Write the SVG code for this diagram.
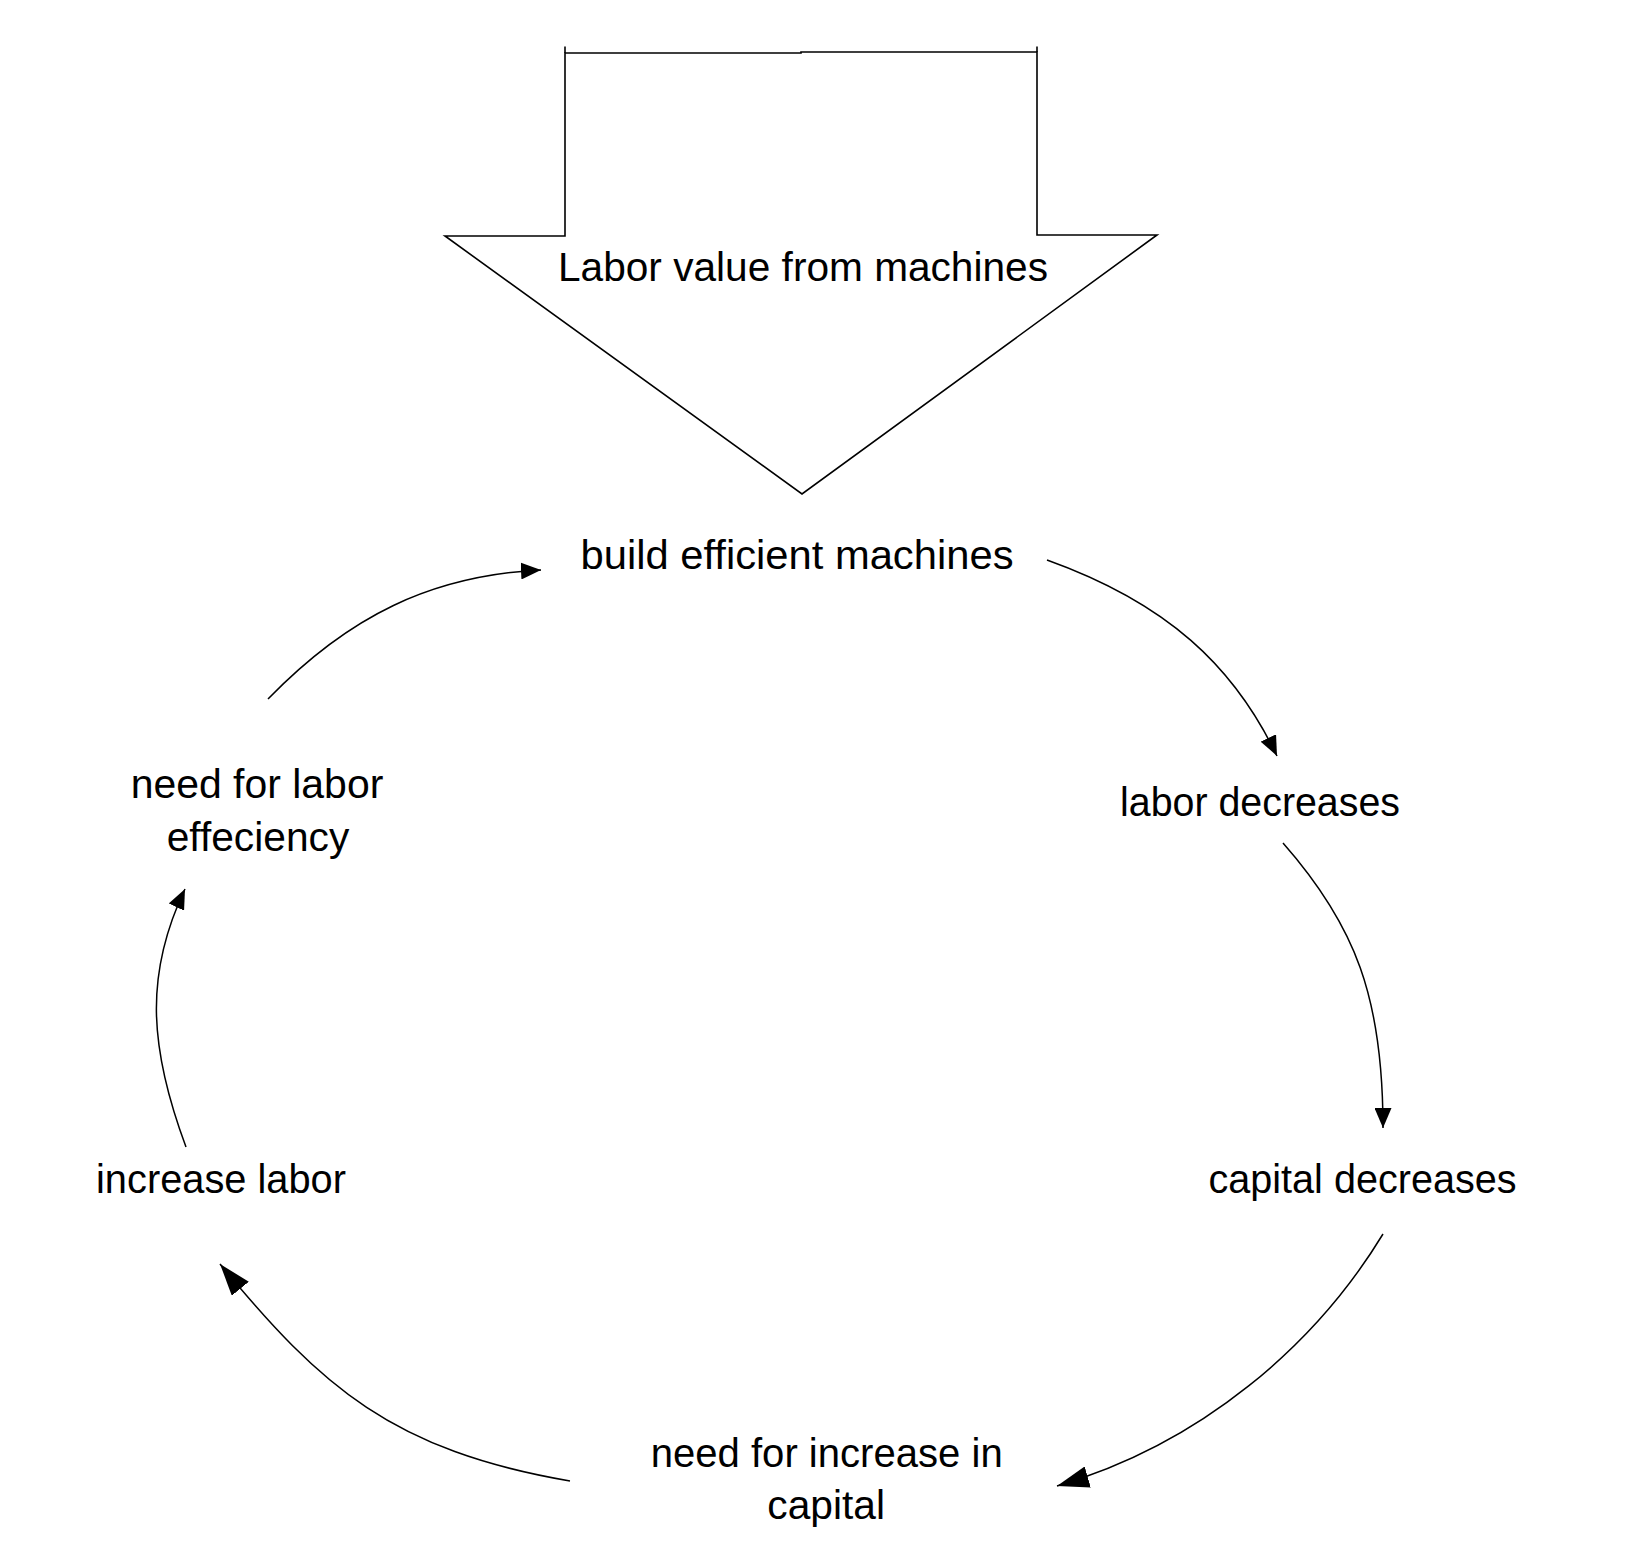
<svg xmlns="http://www.w3.org/2000/svg" width="1648" height="1543" viewBox="0 0 1648 1543">
  <style>
    .lbl { font-family: "Liberation Sans", Arial, sans-serif; font-size: 40.5px; fill: #000; text-anchor: middle; }
    .shape { fill: #fff; stroke: #000; stroke-width: 1.6; stroke-linejoin: miter; }
    .edge { fill: none; stroke: #000; stroke-width: 1.5; }
    .sm { marker-end: url(#headSmall); }
    .lg { marker-end: url(#headLarge); }
  </style>
  <defs>
    <marker id="headSmall" markerUnits="userSpaceOnUse" viewBox="0 0 20 17" refX="20" refY="8.5" markerWidth="20" markerHeight="17" orient="auto">
      <path d="M0,0 L20,8.5 L0,17 z" fill="#000"/>
    </marker>
    <marker id="headLarge" markerUnits="userSpaceOnUse" viewBox="0 0 32 22" refX="32" refY="11" markerWidth="32" markerHeight="22" orient="auto">
      <path d="M0,0 L32,11 L0,22 z" fill="#000"/>
    </marker>
  </defs>
  <rect width="1648" height="1543" fill="#fff"/>

  <g id="node-labor-value">
    <path class="shape" d="M445,236 L565,236 L565,53 L801,53 L801,52 L1037,52 L1037,235 L1157,235 L802,494 Z"/>
    <line x1="565" y1="46.5" x2="565" y2="53" stroke="#000" stroke-width="1.6"/>
    <line x1="1037" y1="46.5" x2="1037" y2="52" stroke="#000" stroke-width="1.6"/>
    <text class="lbl" x="803" y="281" textLength="490" lengthAdjust="spacingAndGlyphs">Labor value from machines</text>
  </g>

  <g id="node-build">
    <text class="lbl" x="797" y="569" textLength="433" lengthAdjust="spacingAndGlyphs">build efficient machines</text>
  </g>
  <g id="node-labor-decreases">
    <text class="lbl" x="1260" y="816" textLength="280" lengthAdjust="spacingAndGlyphs">labor decreases</text>
  </g>
  <g id="node-capital-decreases">
    <text class="lbl" x="1362.5" y="1193" textLength="308" lengthAdjust="spacingAndGlyphs">capital decreases</text>
  </g>
  <g id="node-need-capital">
    <text class="lbl" x="826.7" y="1467" textLength="352" lengthAdjust="spacingAndGlyphs">need for increase in</text>
    <text class="lbl" x="826.2" y="1519" textLength="117.7" lengthAdjust="spacingAndGlyphs">capital</text>
  </g>
  <g id="node-increase-labor">
    <text class="lbl" x="221" y="1193" textLength="250" lengthAdjust="spacingAndGlyphs">increase labor</text>
  </g>
  <g id="node-need-efficiency">
    <text class="lbl" x="257" y="798" textLength="252.6" lengthAdjust="spacingAndGlyphs">need for labor</text>
    <text class="lbl" x="258" y="851" textLength="182.6" lengthAdjust="spacingAndGlyphs">effeciency</text>
  </g>

  <g id="connectors">
    <path class="edge sm" d="M1047,560 C1167,603 1234,666 1277,756"/>
    <path class="edge sm" d="M1283,843 C1355.6,925.5 1383,998 1383,1128"/>
    <path class="edge lg" d="M1383,1234 C1315.4,1345.2 1201,1444 1057,1486"/>
    <path class="edge lg" d="M570,1481 C392.7,1450.4 321.6,1387.5 220,1264"/>
    <path class="edge sm" d="M186,1147 C149.3,1048.3 144.2,974.5 185,889"/>
    <path class="edge sm" d="M268,699 C348.5,616.2 431,575.5 541,570"/>
  </g>
</svg>
